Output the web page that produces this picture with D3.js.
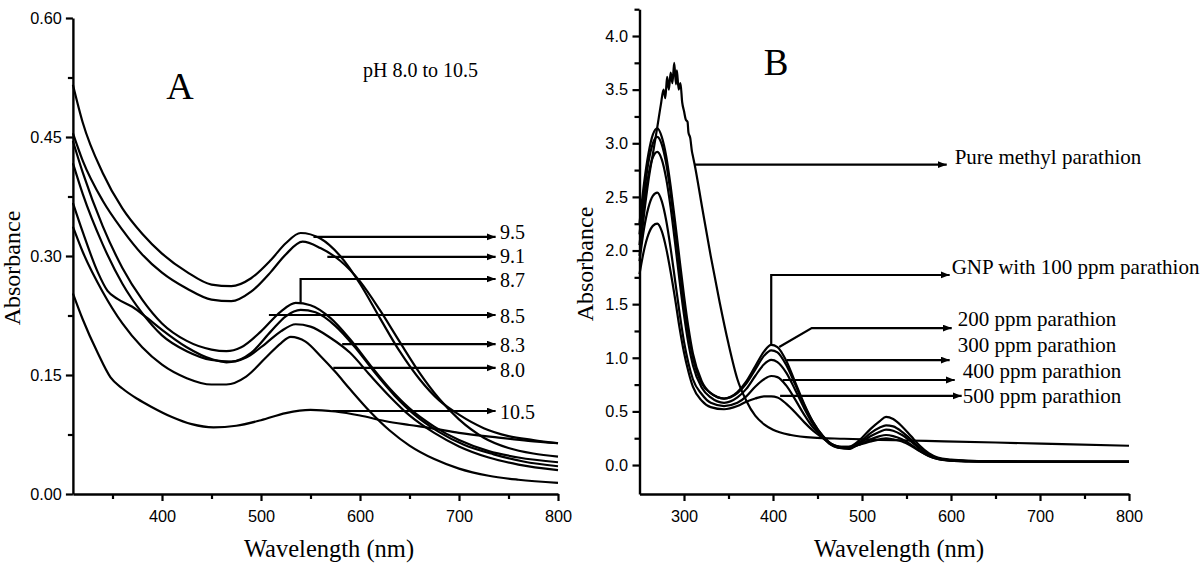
<!DOCTYPE html>
<html><head><meta charset="utf-8">
<script src="https://cdn.jsdelivr.net/npm/d3@7"></script>
<style>
body{margin:0;background:#fff;}
svg{display:block;}
</style></head><body>
<svg id="chart" width="1200" height="567"></svg>
<script>
// ================= Panel A data (pH 8.0 to 10.5) =================
const ph95 = [[310,0.516],[320,0.468],[340,0.405],[360,0.36],[380,0.328],[400,0.303],[425,0.28],[450,0.264],[470,0.262],[490,0.272],[510,0.295],[525,0.316],[540,0.329],[560,0.322],[580,0.300],[600,0.265],[620,0.222],[640,0.18],[660,0.145],[680,0.118],[700,0.10],[725,0.083],[750,0.073],[775,0.068],[800,0.064]];
const ph91 = [[310,0.455],[320,0.42],[340,0.37],[360,0.333],[380,0.302],[400,0.279],[425,0.259],[450,0.245],[470,0.243],[490,0.255],[510,0.28],[525,0.302],[542,0.318],[560,0.31],[580,0.294],[600,0.268],[620,0.232],[640,0.192],[660,0.153],[680,0.12],[700,0.094],[725,0.071],[750,0.058],[775,0.051],[800,0.047]];
const ph87 = [[310,0.445],[320,0.405],[340,0.338],[360,0.285],[380,0.245],[400,0.215],[425,0.193],[450,0.182],[465,0.18],[480,0.185],[500,0.205],[520,0.23],[535,0.241],[550,0.238],[570,0.222],[590,0.195],[610,0.163],[630,0.133],[650,0.108],[675,0.085],[700,0.068],[730,0.054],[760,0.046],[800,0.040]];
const ph85 = [[310,0.417],[320,0.378],[340,0.315],[360,0.265],[380,0.228],[400,0.2],[425,0.18],[450,0.169],[470,0.167],[490,0.178],[510,0.205],[525,0.224],[540,0.232],[555,0.229],[575,0.212],[595,0.185],[615,0.153],[635,0.124],[655,0.1],[680,0.078],[705,0.062],[735,0.05],[765,0.041],[800,0.035]];
const ph83 = [[310,0.367],[320,0.33],[335,0.28],[345,0.256],[355,0.246],[370,0.236],[385,0.222],[400,0.207],[425,0.185],[450,0.17],[465,0.166],[485,0.172],[505,0.19],[520,0.205],[535,0.214],[550,0.211],[570,0.197],[590,0.178],[610,0.15],[630,0.123],[650,0.099],[675,0.077],[700,0.06],[730,0.046],[760,0.037],[800,0.030]];
const ph80 = [[310,0.337],[320,0.305],[340,0.255],[360,0.215],[380,0.185],[400,0.163],[425,0.146],[450,0.138],[465,0.138],[485,0.148],[505,0.172],[520,0.19],[530,0.198],[545,0.192],[560,0.174],[575,0.154],[590,0.132],[610,0.104],[630,0.08],[650,0.061],[675,0.044],[700,0.032],[730,0.023],[760,0.018],[800,0.014]];
const ph105 = [[310,0.253],[320,0.22],[335,0.178],[348,0.147],[360,0.133],[375,0.12],[389,0.11],[410,0.097],[430,0.088],[452,0.084],[475,0.086],[500,0.093],[525,0.102],[550,0.106],[575,0.104],[600,0.099],[625,0.092],[650,0.087],[672,0.083],[700,0.077],[740,0.071],[770,0.067],[800,0.064]];
const seriesA = [ph95, ph91, ph87, ph85, ph83, ph80, ph105];

// Panel A labels (arrows in data units: wavelength nm, absorbance)
const labelsA   = ["9.5","9.1","8.7","8.5","8.3","8.0","10.5"];
const fromNmA   = [553, 567, 540, 508, 582, 573, 572];
const fromAbsA  = [0.324, 0.299, 0.241, 0.2256, 0.189, 0.159, 0.1046];
const lineAbsA  = [0.324, 0.299, 0.271, 0.2256, 0.189, 0.159, 0.1046];
const textAbsA  = [0.330, 0.300, 0.2698, 0.2244, 0.1878, 0.1563, 0.1034];
const tipNmA = 737, textNmA = 741.5;

// Axis ticks panel A
const xMajorA = [400,500,600,700,800];
const xMinorA = [350,450,550,650,750];
const yMajorA = [0,0.15,0.30,0.45,0.60];
const yMinorA = [0.075,0.225,0.375,0.525];

// ================= Panel B data (methyl parathion) =================
const pureMP = [[250,1.95],[255,2.33],[260,2.65],[265,2.9],[270,3.15],[274,3.36],[277,3.5],[279,3.42],[281,3.62],[283,3.5],[285,3.66],[287,3.56],[289,3.75],[291,3.55],[292,3.68],[294,3.5],[296,3.56],[298,3.38],[300,3.3],[302,3.22],[304,3.2],[305,3.1],[307,3.05],[309,2.92],[310,2.88],[312,2.8],[320,2.42],[330,1.95],[340,1.52],[350,1.13],[360,0.8],[370,0.6],[380,0.46],[390,0.38],[400,0.33],[420,0.28],[445,0.255],[480,0.245],[520,0.235],[572,0.225],[650,0.21],[725,0.195],[800,0.18]];
const gridB = [250,255,260,265,270,275,280,285,290,295,300,305,310,320,330,345,360,370,380,390,398,405,415,425,435,445,456,465,475,485,497,510,520,527,535,545,555,565,575,585,600,620,650,700,800];
const ppm100 = [2.25,2.62,2.9,3.08,3.14,3.06,2.88,2.6,2.27,1.92,1.58,1.28,1.04,0.78,0.67,0.62,0.68,0.78,0.92,1.06,1.12,1.1,0.97,0.77,0.57,0.4,0.27,0.2,0.17,0.17,0.23,0.34,0.41,0.45,0.43,0.36,0.27,0.18,0.11,0.07,0.05,0.04,0.036,0.033,0.032];
const ppm200 = [2.15,2.52,2.82,3.0,3.06,2.99,2.81,2.53,2.2,1.84,1.5,1.22,1.0,0.76,0.67,0.62,0.67,0.76,0.89,1.02,1.07,1.05,0.93,0.75,0.56,0.4,0.27,0.2,0.17,0.16,0.21,0.3,0.35,0.37,0.36,0.31,0.24,0.16,0.1,0.065,0.045,0.038,0.034,0.032,0.031];
const ppm300 = [2.05,2.42,2.7,2.87,2.92,2.85,2.67,2.4,2.07,1.72,1.4,1.13,0.93,0.72,0.63,0.58,0.63,0.71,0.83,0.94,0.98,0.96,0.86,0.7,0.53,0.38,0.26,0.19,0.16,0.15,0.2,0.27,0.31,0.33,0.32,0.28,0.22,0.15,0.095,0.062,0.043,0.036,0.033,0.031,0.03];
const ppm400 = [1.9,2.2,2.4,2.51,2.54,2.46,2.28,2.02,1.72,1.42,1.15,0.95,0.8,0.66,0.58,0.55,0.58,0.64,0.73,0.8,0.83,0.82,0.74,0.61,0.47,0.35,0.26,0.19,0.16,0.16,0.19,0.24,0.27,0.28,0.27,0.24,0.19,0.13,0.085,0.056,0.04,0.034,0.031,0.03,0.03];
const ppm500 = [1.78,2.0,2.15,2.23,2.25,2.18,2.02,1.8,1.55,1.28,1.05,0.87,0.73,0.6,0.54,0.52,0.55,0.59,0.62,0.64,0.64,0.63,0.57,0.49,0.4,0.32,0.25,0.2,0.17,0.17,0.19,0.22,0.24,0.25,0.24,0.22,0.18,0.13,0.085,0.056,0.04,0.034,0.031,0.03,0.03];

// Panel B labels (data units)
const labelsB   = ["Pure methyl parathion","GNP with 100 ppm parathion","200 ppm parathion","300 ppm parathion","400 ppm parathion","500 ppm parathion"];
const fromB     = [[312,2.8],[398,1.12],[407,1.10],[415.5,0.979],[411,0.793],[408,0.644]];
const elbowB    = [null,[398,1.772],[443.5,1.277],null,null,null];
const lineAbsB  = [2.8,1.772,1.277,0.979,0.793,0.644];
const tipNmB    = [595.2,598.5,600.8,598.5,604.2,612];
const textNmB   = [604.1,600.8,607.5,607.5,613.1,613.1];
const textAbsB  = [2.872,1.846,1.361,1.119,0.876,0.643];

const xMajorB = [300,400,500,600,700,800];
const xMinorB = [350,450,550,650,750];
const yMajorB = [0,0.5,1.0,1.5,2.0,2.5,3.0,3.5,4.0];
const yMinorB = [0.25,0.75,1.25,1.75,2.25,2.75,3.25,3.75,4.25];

// ================= Drawing =================
const svg = d3.select("#chart");
const SERIF = "'Liberation Serif', 'Times New Roman', serif";
const SANS = "'Liberation Sans', Arial, sans-serif";
const LW = 2.2;

svg.append("defs").append("marker")
  .attr("id","arrow").attr("markerUnits","userSpaceOnUse")
  .attr("markerWidth",10).attr("markerHeight",8)
  .attr("refX",9).attr("refY",3.5).attr("orient","auto")
  .append("path").attr("d","M0,0 L9,3.5 L0,7 Z").attr("fill","#000");

const xA = d3.scaleLinear().domain([310,800]).range([72.9,558]);
const yA = d3.scaleLinear().domain([0,0.6]).range([494,18]);
const xB = d3.scaleLinear().domain([250,800]).range([639.5,1129]);
const yB = d3.scaleLinear().domain([-0.27,4.25]).range([494,9.2]);

function styleAxis(g){
  g.attr("font-family",SANS).attr("font-size",16.3);
  g.selectAll("path.domain").attr("stroke","#000").attr("stroke-width",2.4);
  g.selectAll(".tick line").attr("stroke","#000").attr("stroke-width",2.2);
  g.selectAll(".tick text").attr("fill","#000");
}

function axes(x, y, xMajor, xMinor, yMajor, yMinor, yFmt, yPad){
  const y0 = y.range()[0], x0 = x.range()[0];
  svg.append("g").attr("transform",`translate(0,${y0})`)
    .call(d3.axisBottom(x).tickValues(xMinor).tickSize(5).tickSizeOuter(0).tickFormat(""))
    .call(styleAxis).call(g=>g.select(".domain").remove());
  svg.append("g").attr("transform",`translate(${x0},0)`)
    .call(d3.axisLeft(y).tickValues(yMinor).tickSize(5).tickSizeOuter(0).tickFormat(""))
    .call(styleAxis).call(g=>g.select(".domain").remove());
  svg.append("g").attr("transform",`translate(0,${y0})`)
    .call(d3.axisBottom(x).tickValues(xMajor).tickSize(7).tickSizeOuter(0).tickPadding(9).tickFormat(d3.format("d")))
    .call(styleAxis);
  svg.append("g").attr("transform",`translate(${x0},0)`)
    .call(d3.axisLeft(y).tickValues(yMajor).tickSize(7).tickSizeOuter(0).tickPadding(yPad).tickFormat(d3.format(yFmt)))
    .call(styleAxis);
}

axes(xA, yA, xMajorA, xMinorA, yMajorA, yMinorA, ".2f", 4);
axes(xB, yB, xMajorB, xMinorB, yMajorB, yMinorB, ".1f", 4.5);

// curves
const lineA = d3.line().x(d=>xA(d[0])).y(d=>yA(d[1])).curve(d3.curveMonotoneX);
svg.append("g").selectAll("path").data(seriesA).join("path")
  .attr("d", lineA).attr("fill","none").attr("stroke","#000").attr("stroke-width",LW);

const seriesB = [pureMP].concat([ppm100,ppm200,ppm300,ppm400,ppm500].map(v=>gridB.map((w,i)=>[w,v[i]])));
const lineB = d3.line().x(d=>xB(d[0])).y(d=>yB(d[1])).curve(d3.curveMonotoneX);
svg.append("g").selectAll("path").data(seriesB).join("path")
  .attr("d", lineB).attr("fill","none").attr("stroke","#000").attr("stroke-width",LW);

// Panel A annotations
labelsA.forEach((lab,i)=>{
  svg.append("path")
    .attr("d",`M${xA(fromNmA[i])},${yA(fromAbsA[i])}V${yA(lineAbsA[i])}H${xA(tipNmA)}`)
    .attr("fill","none").attr("stroke","#000").attr("stroke-width",LW).attr("marker-end","url(#arrow)");
  svg.append("text").attr("x",xA(textNmA)).attr("y",yA(textAbsA[i])).attr("dy","0.33em")
    .attr("font-family",SERIF).attr("font-size",20).attr("fill","#000").text(lab);
});

// Panel B annotations
labelsB.forEach((lab,i)=>{
  let d = `M${xB(fromB[i][0])},${yB(fromB[i][1])}`;
  if (elbowB[i]) d += `L${xB(elbowB[i][0])},${yB(elbowB[i][1])}`;
  d += `L${xB(tipNmB[i])},${yB(lineAbsB[i])}`;
  svg.append("path").attr("d",d).attr("fill","none").attr("stroke","#000").attr("stroke-width",LW).attr("marker-end","url(#arrow)");
  svg.append("text").attr("x",xB(textNmB[i])).attr("y",yB(textAbsB[i])).attr("dy","0.33em")
    .attr("font-family",SERIF).attr("font-size",21).attr("fill","#000").text(lab);
});

// Titles, axis labels
svg.append("text").attr("x",180).attr("y",99).attr("text-anchor","middle")
  .attr("font-family",SERIF).attr("font-size",38).text("A");
svg.append("text").attr("x",776).attr("y",75).attr("text-anchor","middle")
  .attr("font-family",SERIF).attr("font-size",37).text("B");
svg.append("text").attr("x",363).attr("y",77)
  .attr("font-family",SERIF).attr("font-size",20).text("pH 8.0 to 10.5");

[[329],[899]].forEach(([cx])=>{
  svg.append("text").attr("x",cx).attr("y",557).attr("text-anchor","middle")
    .attr("font-family",SERIF).attr("font-size",24.5).text("Wavelength (nm)");
});
[[20,268],[593,264]].forEach(([bx,cy])=>{
  svg.append("text").attr("transform",`translate(${bx},${cy}) rotate(-90)`).attr("text-anchor","middle")
    .attr("font-family",SERIF).attr("font-size",24).text("Absorbance");
});
</script>
</body></html>
